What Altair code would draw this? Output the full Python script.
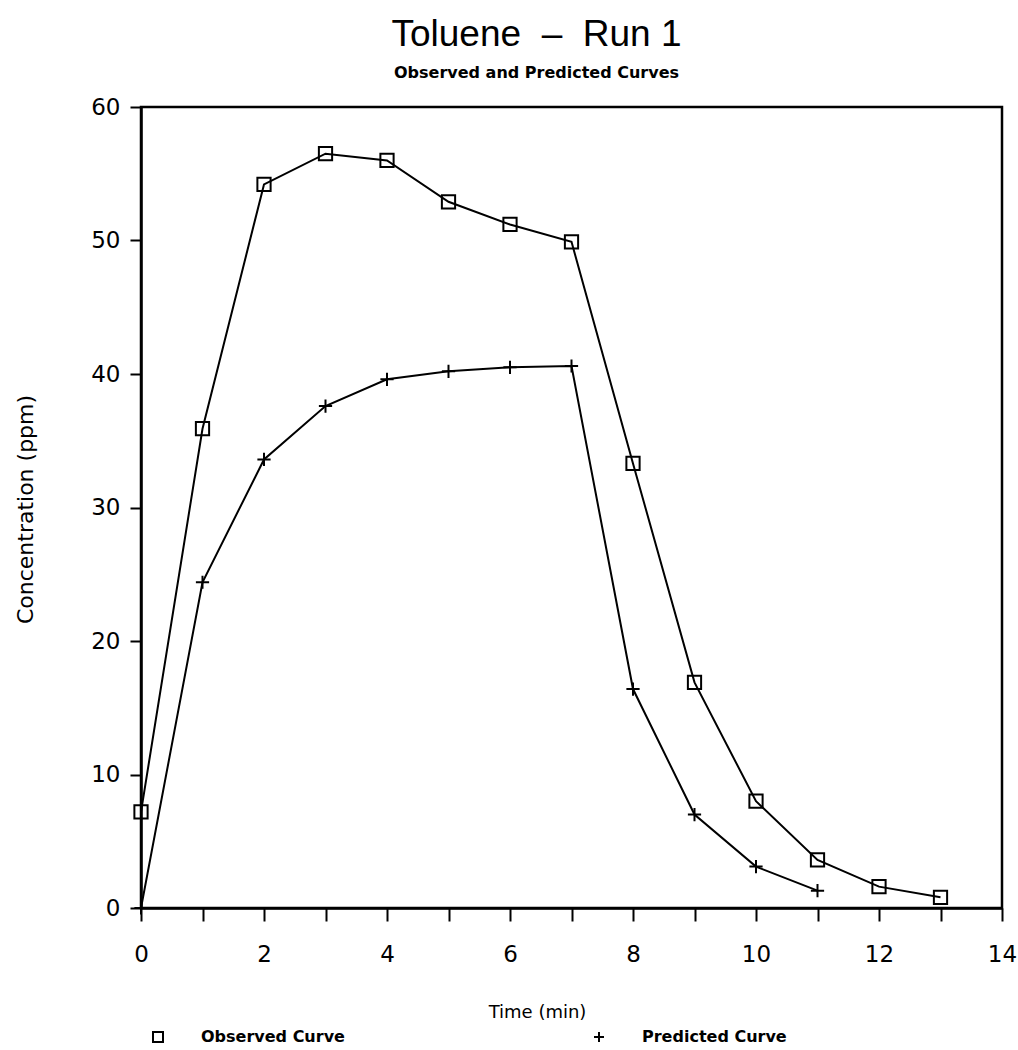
import altair as alt
import pandas as pd

# Data
time_observed = [0, 1, 2, 3, 4, 5, 6, 7, 8, 9, 10, 11, 12, 13]
observed = [7.2, 35.9, 54.2, 56.5, 56.0, 52.9, 51.2, 49.9, 33.3, 16.9, 8.0, 3.6, 1.6, 0.8]
time_predicted = [0, 1, 2, 3, 4, 5, 6, 7, 8, 9, 10, 11]
predicted = [0.0, 24.4, 33.6, 37.6, 39.6, 40.2, 40.5, 40.6, 16.4, 7.0, 3.1, 1.3]
series_names = ["Observed Curve", "Predicted Curve"]
x_ticks = list(range(0, 15))
y_ticks = [0, 10, 20, 30, 40, 50, 60]

df = pd.concat([
    pd.DataFrame({"time": time_observed, "conc": observed, "series": series_names[0]}),
    pd.DataFrame({"time": time_predicted, "conc": predicted, "series": series_names[1]}),
])

FONT = "DejaVu Sans"

x_enc = alt.X(
    "time:Q",
    scale=alt.Scale(domain=[0, 14], nice=False),
    axis=alt.Axis(
        values=x_ticks,
        format="d",
        labelExpr="datum.value % 2 == 0 ? datum.label : ''",
        title="Time (min)",
        grid=False,
        tickSize=13,
        tickWidth=2,
        tickColor="black",
        domainColor="black",
        domainWidth=2.5,
        labelFont=FONT,
        labelFontSize=23,
        labelColor="black",
        labelPadding=22,
        labelFlush=False,
        titleFont=FONT,
        titleFontSize=18,
        titleFontWeight="normal",
        titleColor="black",
        titleX=396,
        titleY=104,
        titleAlign="center",
        titleBaseline="middle",
        titleAnchor="start",
    ),
)
y_enc = alt.Y(
    "conc:Q",
    scale=alt.Scale(domain=[0, 60], nice=False),
    axis=alt.Axis(
        values=y_ticks,
        format="d",
        title="Concentration (ppm)",
        grid=False,
        tickSize=11,
        tickWidth=2,
        tickColor="black",
        domainColor="black",
        domainWidth=2.5,
        labelFont=FONT,
        labelFontSize=23,
        labelColor="black",
        labelPadding=10,
        labelFlush=False,
        titleFont=FONT,
        titleFontSize=22,
        titleFontWeight="normal",
        titleColor="black",
        titleX=-116,
        titleY=402,
        titleAngle=270,
        titleAlign="center",
        titleBaseline="middle",
        titleAnchor="start",
    ),
)

lines = alt.Chart(df).mark_line(color="black", strokeWidth=2).encode(
    x=x_enc,
    y=y_enc,
    detail="series:N",
)

points = alt.Chart(df).mark_point(
    filled=False, color="black", strokeWidth=2, size=175, opacity=1
).encode(
    x="time:Q",
    y="conc:Q",
    shape=alt.Shape(
        "series:N",
        scale=alt.Scale(domain=series_names, range=["square", "M-1,0H1M0,-1V1"]),
        legend=alt.Legend(
            title=None,
            orient="none",
            legendX=9,
            legendY=922,
            direction="horizontal",
            symbolSize=100,
            symbolStrokeWidth=2,
            symbolStrokeColor="black",
            labelFont=FONT,
            labelFontSize=16,
            labelFontWeight="bold",
            labelColor="black",
            labelOffset=35,
            columnPadding=245,
            padding=0,
        ),
    ),
)

chart = alt.layer(lines, points).properties(
    width=861,
    height=801,
    title=alt.TitleParams(
        text="Toluene\u00a0\u00a0–\u00a0\u00a0Run 1",
        subtitle="Observed and Predicted Curves",
        anchor="middle",
        dx=-35,
        font="Liberation Sans",
        fontSize=37,
        fontWeight="normal",
        color="black",
        subtitleFont=FONT,
        subtitleFontSize=16,
        subtitleFontWeight="bold",
        subtitleColor="black",
        subtitlePadding=11,
        offset=14,
    ),
    autosize=alt.AutoSizeParams(type="none"),
    padding={"left": 141, "top": 107, "right": 16, "bottom": 142},
).configure(background="white").configure_view(
    stroke="black", strokeWidth=2.5
)

chart.save("out.html", embed_options={"renderer": "svg", "actions": False})
